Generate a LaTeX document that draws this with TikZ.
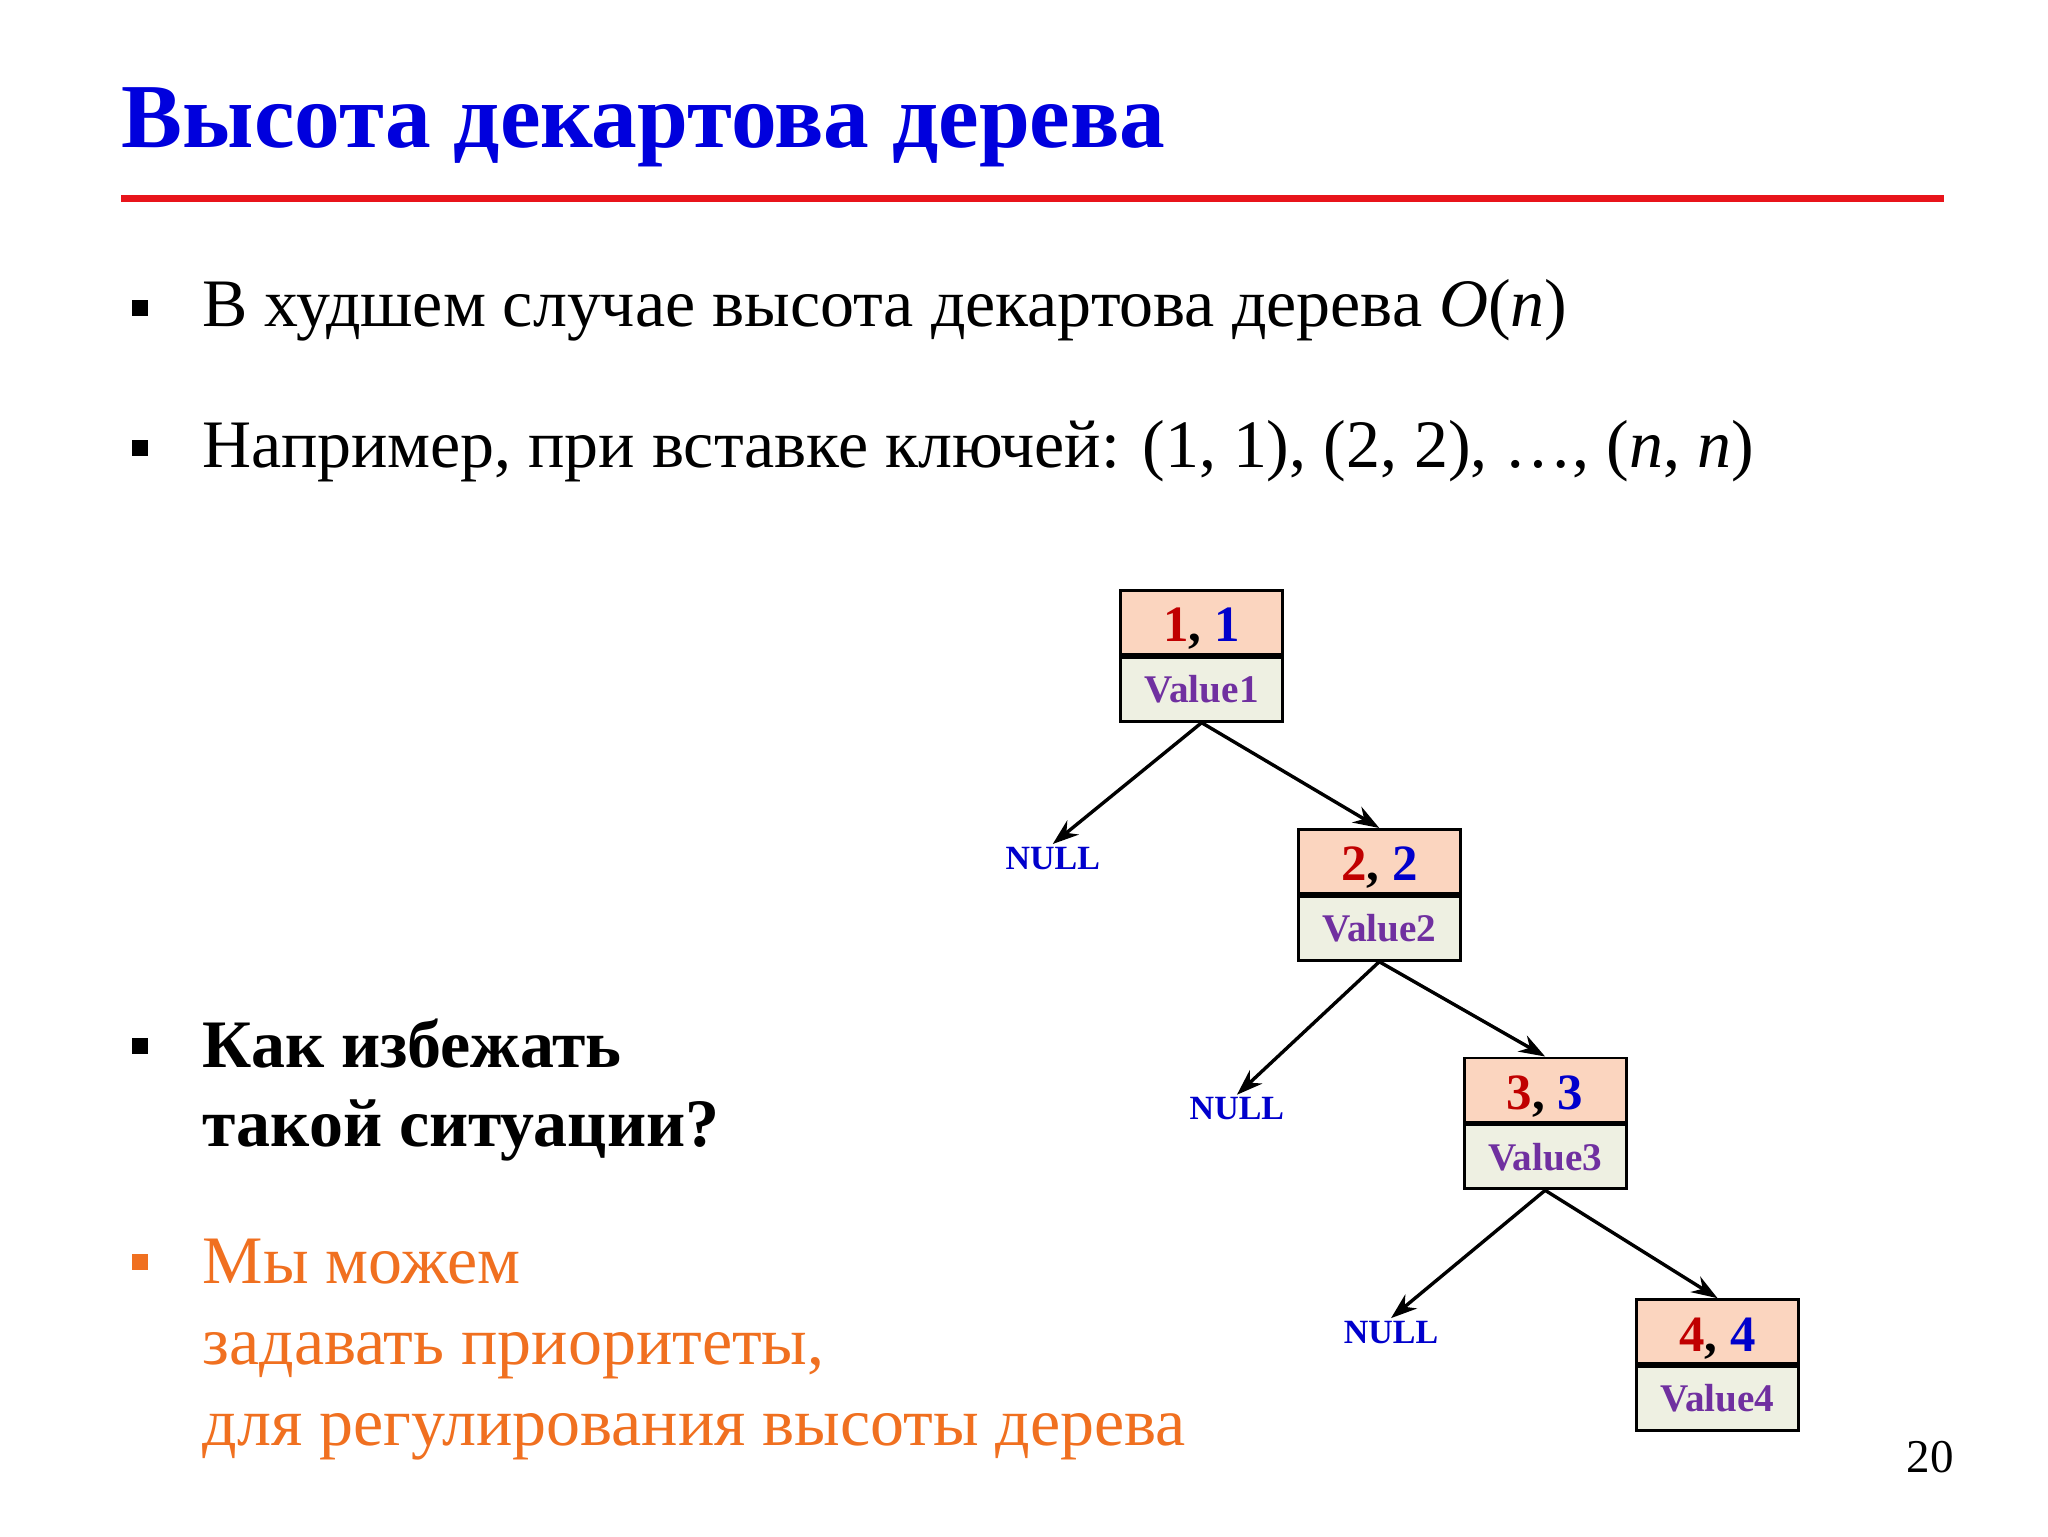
\documentclass[tikz,border=0pt]{standalone}
\usepackage{fontspec}
\setmainfont{Liberation Serif}
\usetikzlibrary{arrows.meta}
\definecolor{tblue}{HTML}{0000DD}
\definecolor{tred}{HTML}{E8141B}
\definecolor{kred}{HTML}{C00000}
\definecolor{kblue}{HTML}{0000CC}
\definecolor{vpur}{HTML}{7030A0}
\definecolor{peach}{HTML}{FBD5BF}
\definecolor{pale}{HTML}{EEF0E2}
\definecolor{oran}{HTML}{F07020}
\tikzset{
 keybox/.style={draw,line width=2.2pt,fill=peach,minimum width=124pt,minimum height=49pt,inner sep=0pt},
 keytxt/.style={inner sep=0pt,anchor=base,font=\fontsize{39}{40}\selectfont\bfseries},
 valbox/.style={draw,line width=2.2pt,fill=pale,minimum width=124pt,minimum height=49pt,inner sep=0pt,font=\fontsize{30}{32}\selectfont\bfseries\color{vpur}},
 nulltxt/.style={font=\fontsize{26}{28}\selectfont\bfseries,text=kblue,inner sep=2pt},
 arr/.style={line width=2.6pt,-{Stealth[length=20pt,width=14pt]}},
 txt/.style={anchor=base west,inner sep=0pt,font=\fontsize{52}{56}\selectfont},
 bul/.style={fill,minimum size=12pt,inner sep=0pt}
}
\begin{document}
\begin{tikzpicture}[x=1pt,y=-1pt]
\useasboundingbox (0,0) rectangle (1568,1176);
\node[anchor=base west,inner sep=0pt,font=\fontsize{70}{74}\selectfont\bfseries,text=tblue] (title) at (93,113) {Высота декартова дерева};
\draw[tred,line width=5pt] (93,152) -- (1488,152);
\node[bul] (b1) at (107,236) {};
\node[txt] (t1) at (155,250) {В худшем случае высота декартова дерева \textit{O}(\textit{n})};
\node[bul] (b2) at (107,343) {};
\node[txt] (t2) at (155,358) {Например, при вставке ключей: (1, 1), (2, 2), …, (\textit{n}, \textit{n})};
\node[bul] (b3) at (107,801) {};
\node[txt,font=\fontsize{52}{56}\selectfont\bfseries] (t3a) at (155,817) {Как избежать};
\node[txt,font=\fontsize{52}{56}\selectfont\bfseries] (t3b) at (155,878) {такой ситуации?};
\node[bul,oran] (b4) at (107,966) {};
\node[txt,text=oran] (t4a) at (155,983) {Мы можем};
\node[txt,text=oran] (t4b) at (155,1045) {задавать приоритеты,};
\node[txt,text=oran] (t4c) at (155,1107) {для регулирования высоты дерева};
\node[anchor=base,font=\fontsize{36}{38}\selectfont,inner sep=0pt] (pg) at (1478,1127) {20};
% nodes
\foreach \n/\x/\y in {1/920/476.5,2/1056/659.5,3/1183/834.5,4/1315/1019.5}{
 \node[keybox] (k\n) at (\x,\y) {};
 \node[keytxt] (kt\n) at ([yshift=-15pt]k\n.center) {\textcolor{kred}{\n}, \textcolor{kblue}{\n}};
 \node[valbox,anchor=north] (v\n) at (k\n.south) {Value\n};
}
\node[nulltxt] (n1) at (806,657) {NULL};
\node[nulltxt] (n2) at (947,849) {NULL};
\node[nulltxt] (n3) at (1065,1020) {NULL};
\draw[arr] (v1.south) -- (n1.north);
\draw[arr] (v1.south) -- (k2.north);
\draw[arr] (v2.south) -- (n2.north);
\draw[arr] (v2.south) -- (k3.north);
\draw[arr] (v3.south) -- (n3.north);
\draw[arr] (v3.south) -- (k4.north);
\end{tikzpicture}
\end{document}
